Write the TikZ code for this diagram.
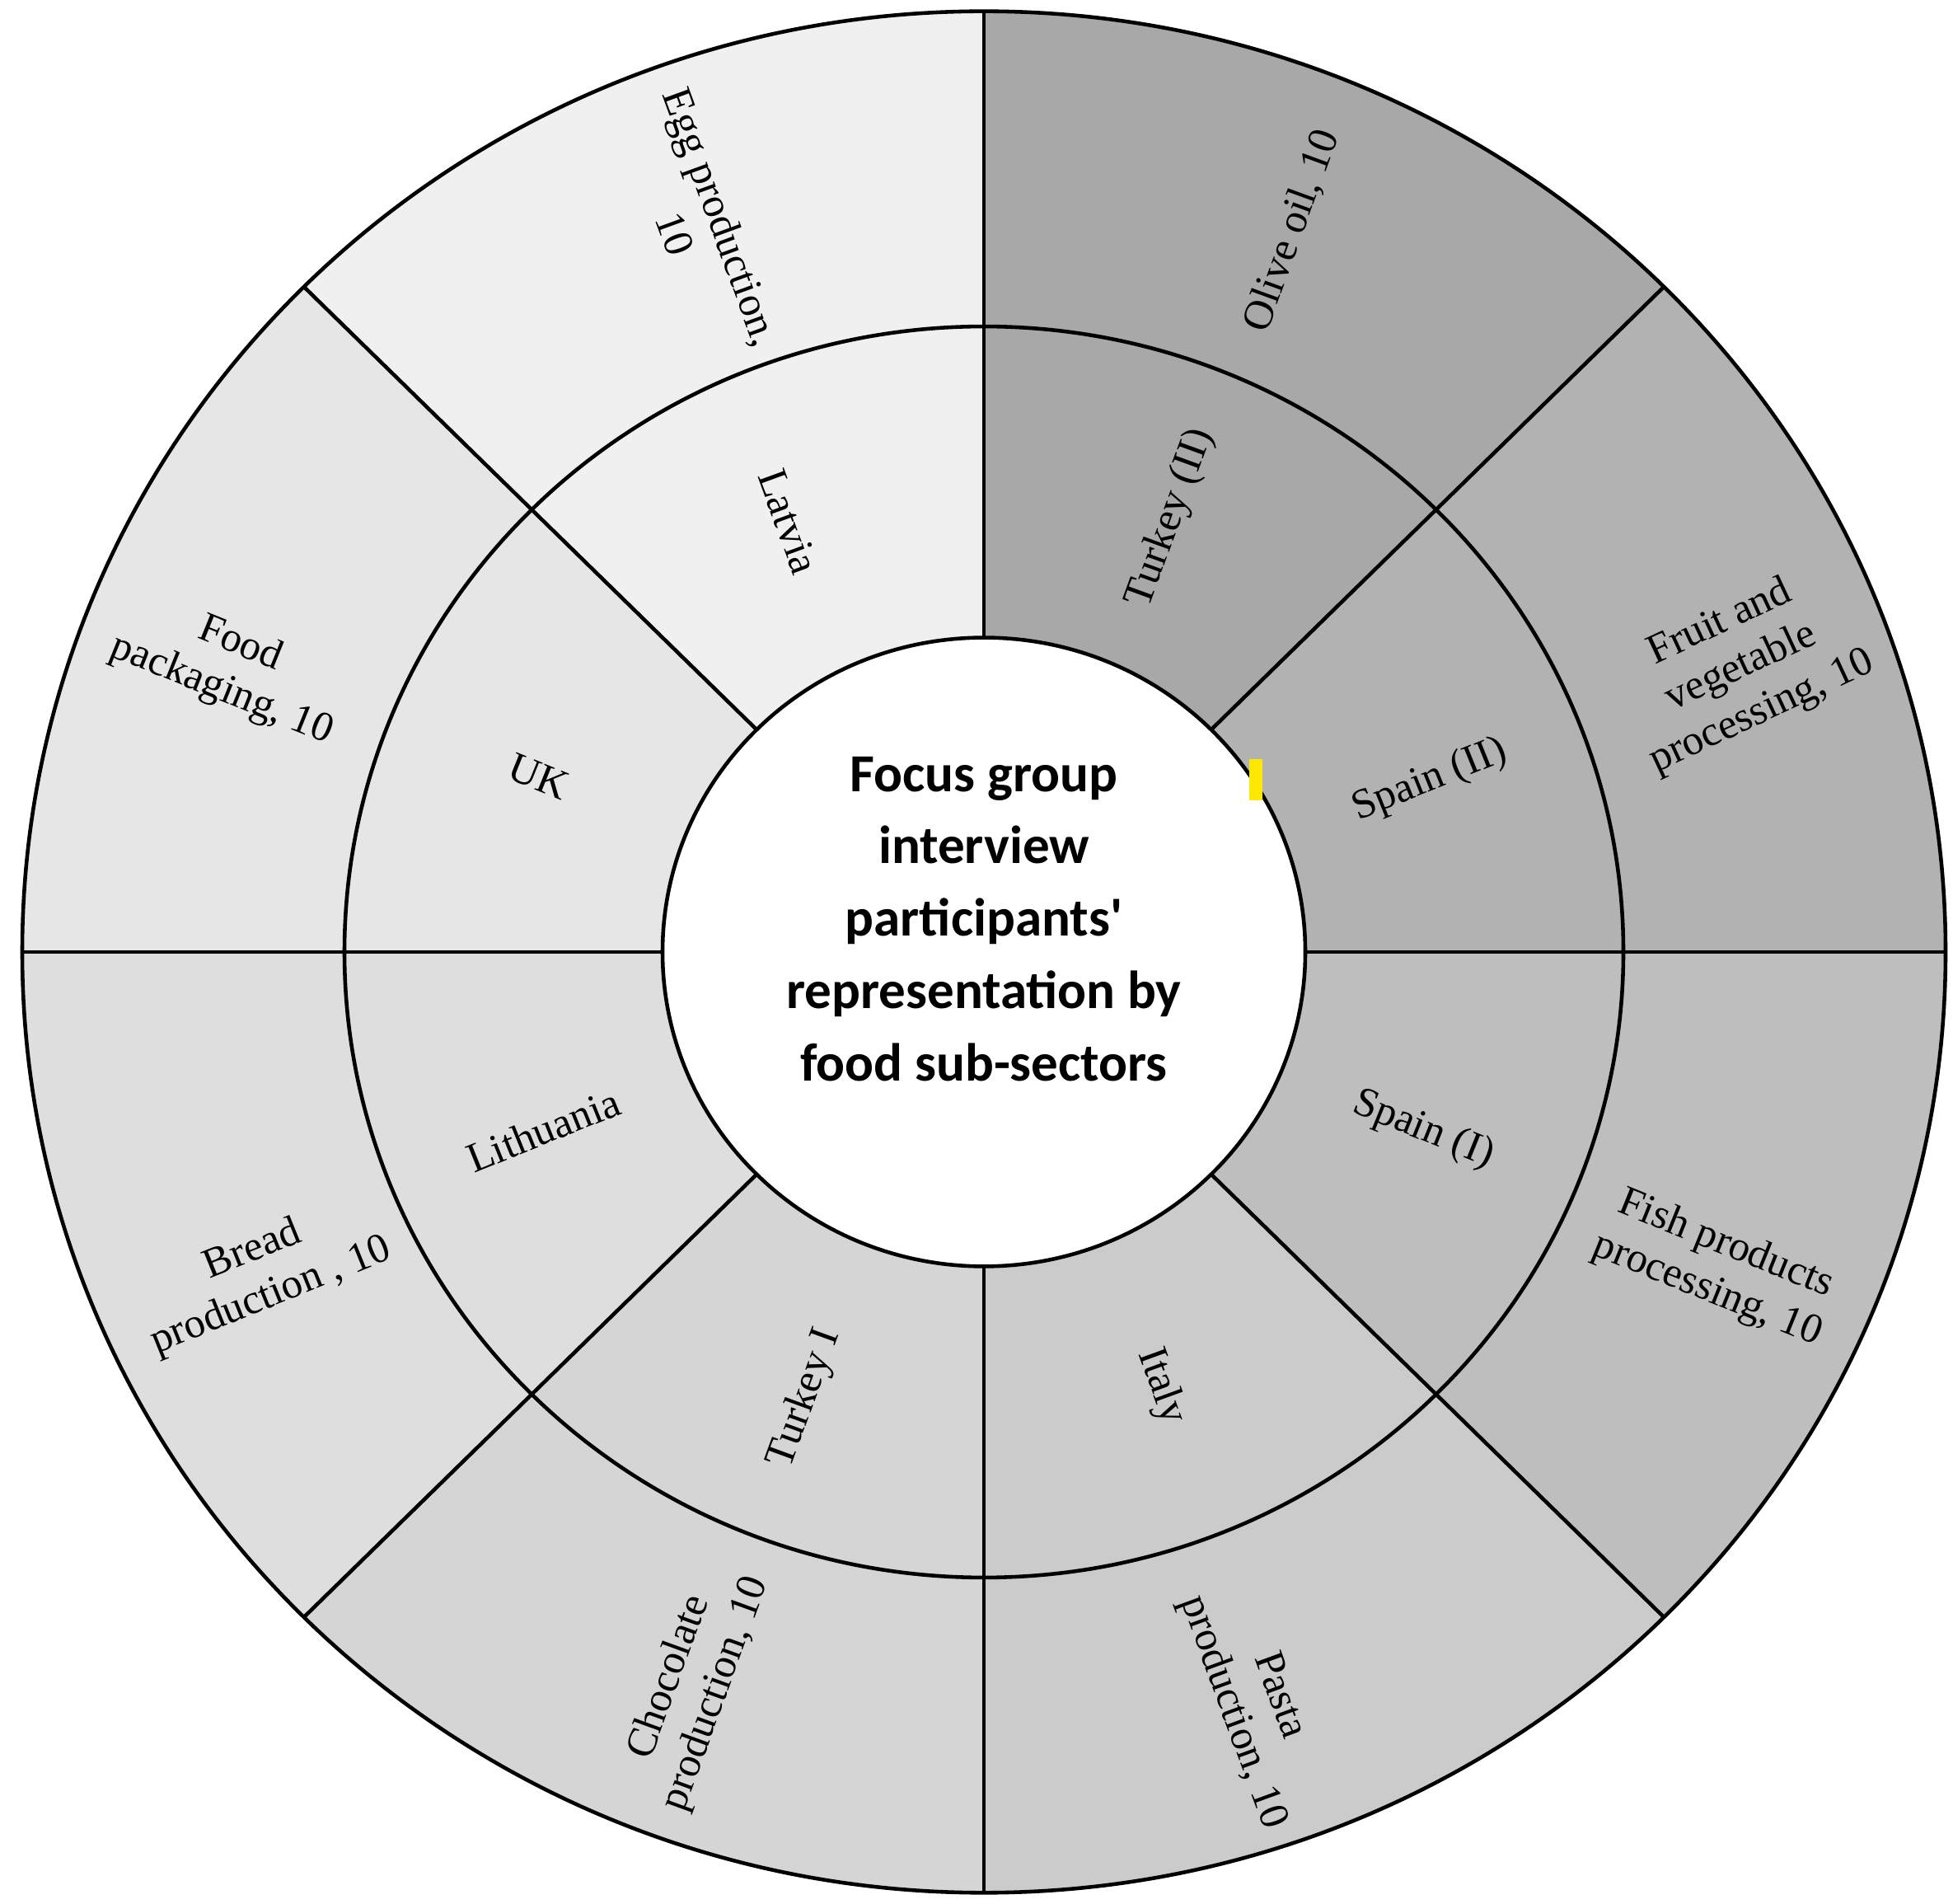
\documentclass[tikz,border=0pt]{standalone}
\usepackage{fontspec}
\setmainfont{Liberation Serif}
\newfontfamily\ctrfont{Carlito}
\begin{document}
\begin{tikzpicture}[
  lab/.style={font=\fontsize{14.5}{17}\selectfont, align=center, inner sep=1pt},
  ring/.style={draw=black, line width=1.3pt}
]
\useasboundingbox (0,0) rectangle (23.7,23.09);
\coordinate (C) at (11.94,11.54);
\begin{scope}[shift={(C)}, yscale=0.978]
  \foreach \a/\c in {90/F0F0F0,135/E6E6E6,180/DEDEDE,225/D5D5D5,270/CBCBCB,315/BEBEBE,0/B2B2B2,45/A8A8A8}{
    \definecolor{sc}{HTML}{\c}
    \fill[sc] (0,0) -- (\a:11.67) arc (\a:\a+45:11.67) -- cycle;
  }
  \foreach \a in {0,45,...,315}{
    \draw[ring] (\a:3.9) -- (\a:11.67);
  }
  \draw[ring] (0,0) circle (7.76);
  \draw[ring, fill=white] (0,0) circle (3.9);
  \draw[ring] (0,0) circle (11.67);
\end{scope}
\fill[yellow!90!orange] (15.16,13.38) rectangle (15.32,13.88);
\node[font=\ctrfont\bfseries\fontsize{18.5}{25}\selectfont, align=center] (ctr) at ([yshift=0.4cm]C) {Focus group\\interview\\participants'\\representation by\\food sub-sectors};
\node[lab, rotate=-70] (egg) at (8.48,20.36) {Egg production,\\10};
\node[lab, rotate=-70] (lat) at (9.57,16.76) {Latvia};
\node[lab, rotate=70] (oil) at (15.68,20.29) {Olive oil, 10};
\node[lab, rotate=70] (tr2) at (14.21,16.80) {Turkey (II)};
\node[lab, rotate=25] (fruit) at (21.13,14.99) {Fruit and\\vegetable\\processing, 10};
\node[lab, rotate=22] (sp2) at (17.35,13.62) {Spain (II)};
\node[lab, rotate=-22] (sp1) at (17.27,9.38) {Spain (I)};
\node[lab, rotate=-22] (fish) at (20.83,7.71) {Fish products\\processing, 10};
\node[lab, rotate=-70] (ita) at (14.09,6.27) {Italy};
\node[lab, rotate=-70] (pasta) at (15.23,2.41) {Pasta\\production, 10};
\node[lab, rotate=70] (tr1) at (9.77,6.12) {Turkey I};
\node[lab, rotate=70] (choc) at (8.41,2.64) {Chocolate\\production, 10};
\node[lab, rotate=22] (lit) at (6.59,9.38) {Lithuania};
\node[lab, rotate=22] (bread) at (3.18,7.64) {Bread\\production , 10};
\node[lab, rotate=-22] (uk) at (6.54,13.67) {UK};
\node[lab, rotate=-22] (food) at (2.80,14.99) {Food\\packaging, 10};
\end{tikzpicture}
\end{document}
